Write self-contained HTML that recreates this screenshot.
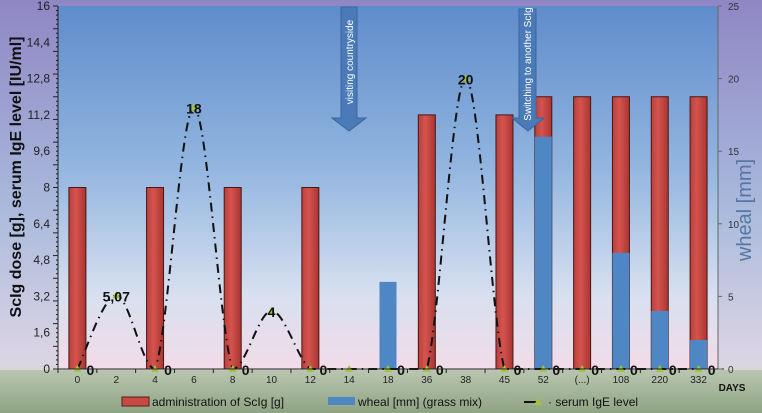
<!DOCTYPE html>
<html><head><meta charset="utf-8"><style>
html,body{margin:0;padding:0;width:762px;height:413px;overflow:hidden;background:#fff}
svg{display:block;font-family:"Liberation Sans",Arial,sans-serif}
</style></head><body>
<svg id="chart" width="762" height="413" viewBox="0 0 762 413">
<defs>
<linearGradient id="bgOuter" x1="0" y1="0" x2="0" y2="1">
<stop offset="0" stop-color="#8f86c4"/><stop offset="0.5" stop-color="#a9b9dc"/><stop offset="0.85" stop-color="#d9d3e4"/><stop offset="1" stop-color="#d8dcd6"/></linearGradient>
<linearGradient id="bgPlot" x1="0" y1="0" x2="0" y2="1">
<stop offset="0" stop-color="#5f8ccb"/><stop offset="0.45" stop-color="#93b6e0"/><stop offset="0.8" stop-color="#d8e0f0"/><stop offset="1" stop-color="#f2dce8"/></linearGradient>
<linearGradient id="bgBottom" x1="0" y1="0" x2="0" y2="1">
<stop offset="0" stop-color="#b9c6b0"/><stop offset="1" stop-color="#8fa483"/></linearGradient>
<linearGradient id="redBar" x1="0" y1="0" x2="1" y2="0">
<stop offset="0" stop-color="#b8403c"/><stop offset="0.4" stop-color="#d5534e"/><stop offset="1" stop-color="#a83632"/></linearGradient>
</defs>
<rect x="0" y="0" width="762" height="413" fill="url(#bgOuter)"/>
<rect x="0" y="370" width="762" height="43" fill="url(#bgBottom)"/>
<rect x="58" y="6" width="660" height="363" fill="url(#bgPlot)"/>
<g id="bars"></g>
<g id="line"></g>
<g id="axes"></g>
<g>
<path d="M341,7 L357,7 L357,118 L366,118 L349,131 L332,118 L341,118 Z" fill="#4a7ab8" stroke="#3b659c" stroke-width="1"/>
<text transform="translate(353,62) rotate(-90)" text-anchor="middle" font-size="10" fill="#fff">visiting countryside</text>
</g>
<g>
<path d="M519,9 L536,9 L536,118 L544,118 L528,131 L512,118 L519,118 Z" fill="#4a7ab8" stroke="#3b659c" stroke-width="1"/>
<text transform="translate(531,64) rotate(-90)" text-anchor="middle" font-size="10" fill="#fff">Switching to another ScIg</text>
</g>
<text transform="translate(21,177) rotate(-90)" text-anchor="middle" font-size="16" font-weight="bold" fill="#111">ScIg dose   [g], serum  IgE level [IU/ml]</text>
<text transform="translate(751,210) rotate(-90)" text-anchor="middle" font-size="20" fill="#5577a6">wheal [mm]</text>
<text x="732" y="391" text-anchor="middle" font-size="10" font-weight="bold" fill="#111">DAYS</text>
<g>
<g><rect x="122" y="397" width="27" height="9" fill="#c84a45" stroke="#5a1a18"/><text x="152" y="406" font-size="12" fill="#111">administration of ScIg [g]</text></g>
<g><rect x="328" y="397" width="27" height="8" fill="#4f86c4"/><text x="358" y="406" font-size="12" fill="#111">wheal [mm] (grass mix)</text></g>
<g><line x1="524" y1="402" x2="540" y2="402" stroke="#111" stroke-width="2"/><polygon points="538,398 542,405 534,405" fill="#a6c43a"/><text x="548" y="406" font-size="12" fill="#111">· serum IgE level</text></g>
</g>
</svg>
<script>
const categories=["0","2","4","6","8","10","12","14","18","36","38","45","52","(...)","108","220","332"];
const sclgDose=[8,0,8,0,8,0,8,0,0,11.2,0,11.2,12,12,12,12,12];
const whealMm=[0,0,0,0,0,0,0,0,6,0,0,0,16,0,8,4,2];
const igeLevel=[0,5.07,0,18,0,4,0,0,0,0,20,0,0,0,0,0,0];
const igeLabels=["0","5,07","0","18","0","4","0","","0","0","20","0","0","0","0","0","0"];
const leftTicks=[0,1.6,3.2,4.8,6.4,8,9.6,11.2,12.8,14.4,16];
const leftTickLabels=["0","1,6","3,2","4,8","6,4","8","9,6","11,2","12,8","14,4","16"];
const rightTicks=[0,5,10,15,20,25];

const NS="http://www.w3.org/2000/svg";
const X0=58,X1=718,Y0=369,Y1=6;
const band=(X1-X0)/categories.length;
const xc=i=>X0+band*(i+0.5);
const yL=v=>Y0-(v/16)*(Y0-Y1);
const yR=v=>Y0-(v/25)*(Y0-Y1);
function mk(tag,attrs,parent){const e=document.createElementNS(NS,tag);for(const k in attrs)e.setAttribute(k,attrs[k]);parent.appendChild(e);return e;}
const gb=document.getElementById('bars'),gl=document.getElementById('line'),ga=document.getElementById('axes');
const bw=17;
categories.forEach((c,i)=>{
  if(sclgDose[i]>0){
    const r=mk('rect',{x:xc(i)-bw/2,y:yL(sclgDose[i]),width:bw,height:Y0-yL(sclgDose[i]),fill:'url(#redBar)',stroke:'#4a1614','stroke-width':1},gb);
    
    
  }
  if(whealMm[i]>0){
    const r=mk('rect',{x:xc(i)-bw/2,y:yR(whealMm[i]),width:bw,height:Y0-yR(whealMm[i]),fill:'#4f86c4'},gb);
    
    
  }
});
const pts=igeLevel.map((v,i)=>[xc(i),yR(v)]);
let d='M'+pts[0][0]+','+pts[0][1];
for(let i=0;i<pts.length-1;i++){
  const p0=pts[Math.max(0,i-1)],p1=pts[i],p2=pts[i+1],p3=pts[Math.min(pts.length-1,i+2)];
  const t=0.5/3;
  const c1=[p1[0]+(p2[0]-p0[0])*t,p1[1]+(p2[1]-p0[1])*t];
  const c2=[p2[0]-(p3[0]-p1[0])*t,p2[1]-(p3[1]-p1[1])*t];
  d+=` C${c1[0]},${Math.min(c1[1],Y0)} ${c2[0]},${Math.min(c2[1],Y0)} ${p2[0]},${p2[1]}`;
}
const path=mk('path',{d:d,fill:'none',stroke:'#111','stroke-width':2,'stroke-dasharray':'9,5,1.5,5'},gl);


igeLevel.forEach((v,i)=>{
  const tri=mk('polygon',{points:`${xc(i)},${yR(v)-4} ${xc(i)+4},${yR(v)+3} ${xc(i)-4},${yR(v)+3}`,fill:'#a6c43a'},gl);
  
  
  if(igeLabels[i]!==''){
    const isZero=v===0;
    const t=mk('text',{x:isZero?xc(i)+13:xc(i),y:isZero?Y0+6:yR(v)+6,'text-anchor':'middle','font-size':14,'font-weight':'bold',fill:'#111'},gl);
    t.textContent=igeLabels[i];
    
    
  }
});
const la=mk('line',{x1:X0,y1:Y1,x2:X0,y2:Y0,stroke:'#222','stroke-width':1},ga);


const ra=mk('line',{x1:X1,y1:Y1,x2:X1,y2:Y0,stroke:'#666','stroke-width':1},ga);


const xa=mk('line',{x1:X0,y1:Y0,x2:X1+6,y2:Y0,stroke:'#222','stroke-width':1},ga);


for(let k=0;k<=80;k++){const y=Y0-k*(Y0-Y1)/80;mk('line',{x1:X0-(k%5===0?5:2),y1:y,x2:X0,y2:y,stroke:'#222','stroke-width':1},ga);}
leftTicks.forEach((v,i)=>{
  const t=mk('text',{x:X0-8,y:yL(v)+4,'text-anchor':'end','font-size':12,fill:'#222'},ga);
  t.textContent=leftTickLabels[i];
  
  
});
rightTicks.forEach(v=>{
  mk('line',{x1:X1,y1:yR(v),x2:X1+4,y2:yR(v),stroke:'#666'},ga);
  const t=mk('text',{x:X1+10,y:yR(v)+4,'font-size':10,fill:'#333'},ga);
  t.textContent=v;
  
  
});
categories.forEach((c,i)=>{
  mk('line',{x1:X0+band*i,y1:Y0,x2:X0+band*i,y2:Y0+4,stroke:'#222'},ga);
  const t=mk('text',{x:xc(i),y:Y0+14,'text-anchor':'middle','font-size':10,fill:'#222'},ga);
  t.textContent=c;
  
  
});
</script>
</body></html>
